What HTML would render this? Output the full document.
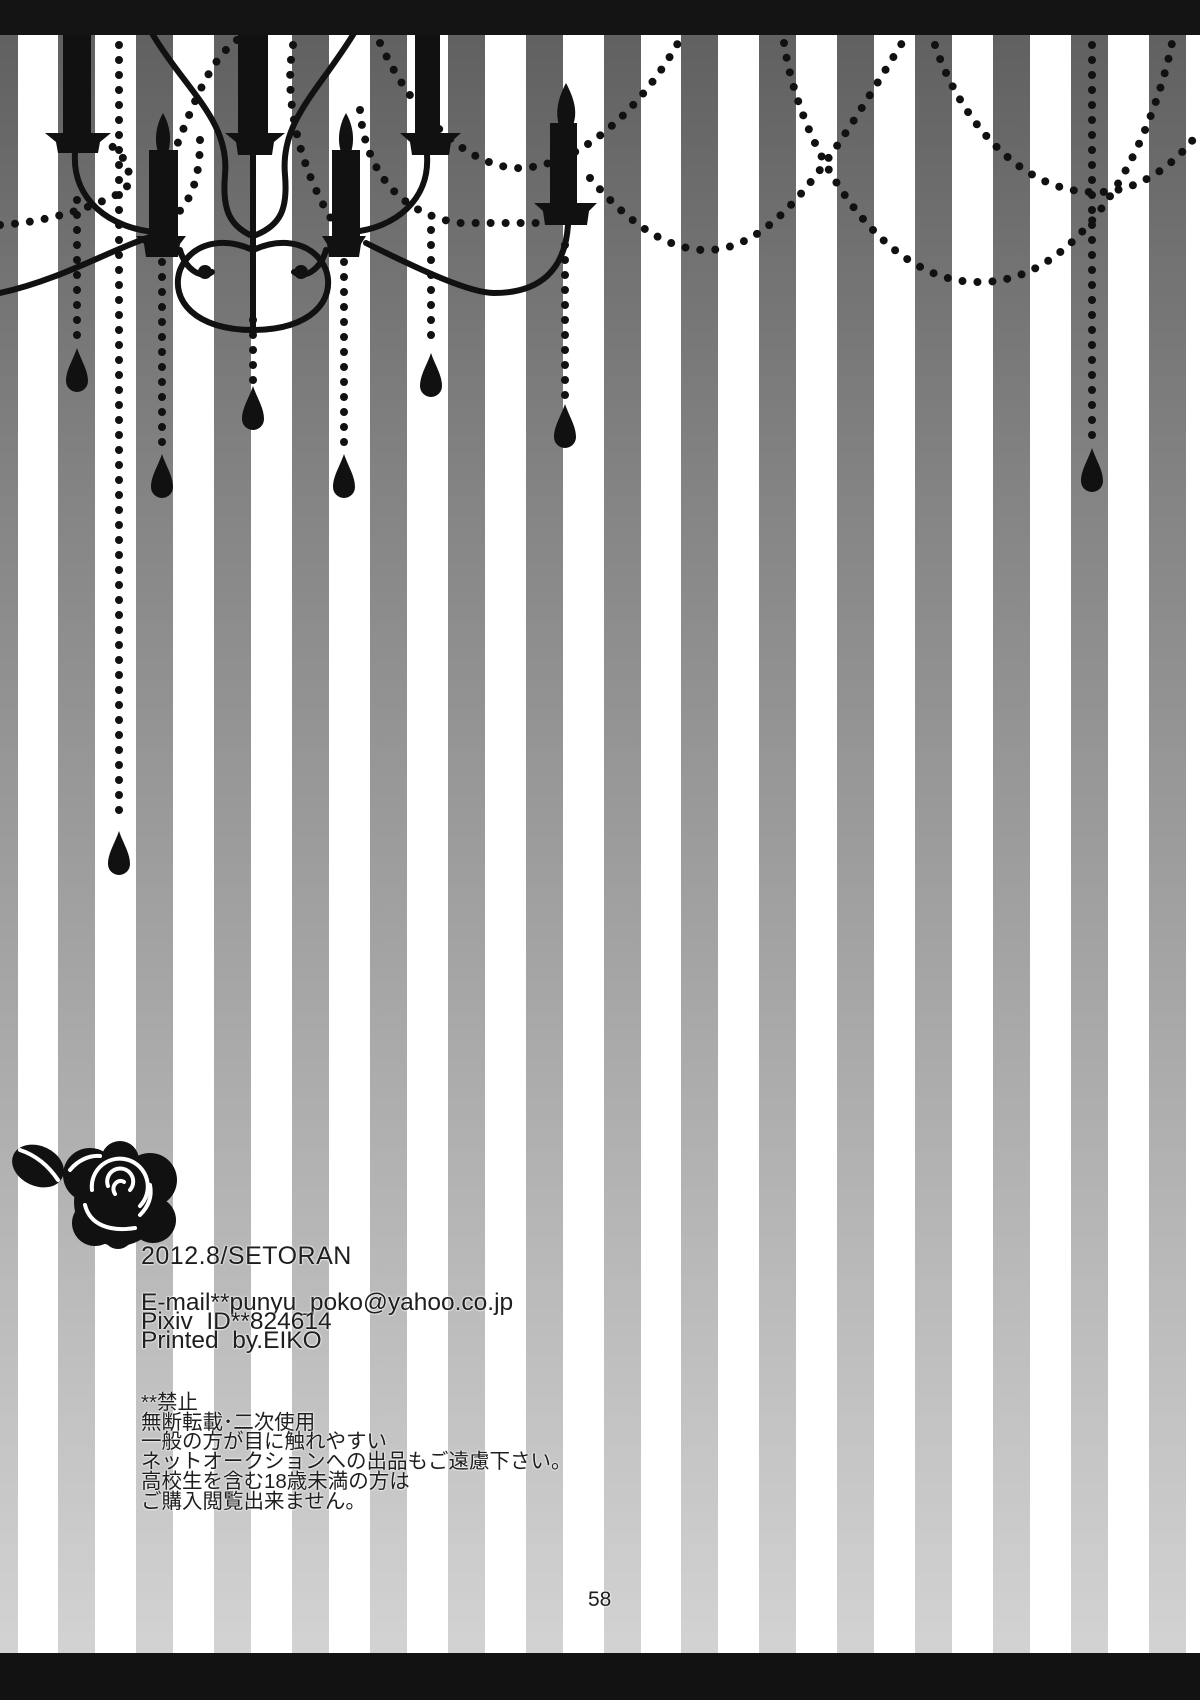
<!DOCTYPE html>
<html><head><meta charset="utf-8"><style>
html,body{margin:0;padding:0;background:#fff}
#p{position:relative;width:1200px;height:1700px;overflow:hidden;background:#fff}
svg{position:absolute;left:0;top:0}
.t{position:absolute;left:141px;color:#1e1e1e;font-family:"Liberation Sans","Noto Sans CJK JP",sans-serif;white-space:nowrap;text-shadow:0 0 2px #fff,0 0 2px #fff}
</style></head><body><div id="p">
<svg width="1200" height="1700" viewBox="0 0 1200 1700">
<defs>
<linearGradient id="g" x1="0" y1="0" x2="0" y2="1700" gradientUnits="userSpaceOnUse">
<stop offset="0" stop-color="#5e5e5e"/><stop offset="0.3" stop-color="#858585"/><stop offset="0.6" stop-color="#a8a8a8"/><stop offset="1" stop-color="#d6d6d6"/>
</linearGradient>
<path id="d" d="M0,-24 C4,-12 11,-2 11,9 A11,11 0 0 1 -11,9 C-11,-2 -4,-12 0,-24Z"/>
</defs>
<rect x="0" y="0" width="18" height="1700" fill="url(#g)"/>
<g fill="url(#g)">
<rect x="58" y="0" width="37" height="1700"/><rect x="136" y="0" width="37" height="1700"/><rect x="214" y="0" width="37" height="1700"/><rect x="292" y="0" width="37" height="1700"/><rect x="370" y="0" width="37" height="1700"/><rect x="448" y="0" width="37" height="1700"/><rect x="526" y="0" width="37" height="1700"/><rect x="604" y="0" width="37" height="1700"/><rect x="681" y="0" width="37" height="1700"/><rect x="759" y="0" width="37" height="1700"/><rect x="837" y="0" width="37" height="1700"/><rect x="915" y="0" width="37" height="1700"/><rect x="993" y="0" width="37" height="1700"/><rect x="1071" y="0" width="37" height="1700"/><rect x="1149" y="0" width="37" height="1700"/>
</g>
<g fill="none" stroke="#111" stroke-width="8" stroke-linecap="round" stroke-dasharray="0 15">
<path d="M380,43 C420,130 480,170 522,168 C580,165 640,110 678,43"/>
<path d="M590,178 C630,225 670,252 711,250 C780,245 830,160 902,43"/>
<path d="M784,43 C800,150 880,282 977,282 C1080,285 1150,150 1172,43"/>
<path d="M935,45 C960,120 1020,190 1090,192 C1140,195 1180,160 1200,130"/>
<path d="M360,110 C365,170 400,215 460,223 L545,223"/>
<path d="M293,45 C283,100 300,170 335,225"/>
<path d="M237,40 C210,60 195,100 175,150"/>
<path d="M200,140 C200,180 190,205 170,220"/>
<path d="M0,225 C50,222 100,205 125,190 C135,175 125,155 110,145"/>
<path d="M119,45 L119,820"/>
<path d="M77,200 L77,345"/>
<path d="M162,262 L162,452"/>
<path d="M253,320 L253,386"/>
<path d="M344,262 L344,452"/>
<path d="M431,230 L431,350"/>
<path d="M565,245 L565,402"/>
<path d="M1092,45 L1092,445"/>
</g>
<g fill="#111">
<use href="#d" x="77" y="372"/><use href="#d" x="162" y="478"/><use href="#d" x="253" y="410"/><use href="#d" x="344" y="478"/><use href="#d" x="431" y="377"/><use href="#d" x="565" y="428"/><use href="#d" x="1092" y="472"/><use href="#d" x="119" y="855"/>
</g>
<g fill="none" stroke="#111" stroke-width="6" stroke-linecap="round">
<path d="M0,293 C60,280 110,250 150,237"/>
<path d="M366,243 C420,270 470,293 494,293 C540,293 565,270 568,225"/>
<path d="M75,153 C72,200 110,228 155,232"/>
<path d="M427,155 C430,200 395,228 352,232"/>
<path d="M150,30 C185,90 230,120 225,175 C222,210 230,225 250,235"/>
<path d="M356,30 C320,90 280,120 285,175 C288,210 280,225 256,235"/>
<path d="M253,250 C220,235 190,245 180,270 C170,300 195,330 253,330"/>
<path d="M253,250 C286,235 316,245 326,270 C336,300 311,330 253,330"/>
<path d="M253,150 L253,330"/>
<path d="M180,250 C185,268 200,280 212,272"/>
<path d="M326,250 C321,268 306,280 294,272"/>
</g>
<g fill="#111">
<circle cx="205" cy="272" r="7"/><circle cx="301" cy="272" r="7"/>
<rect x="63" y="35" width="28" height="100"/><path d="M45,133 L111,133 L100,142 L98,153 L58,153 L56,142Z"/>
<rect x="238" y="35" width="30" height="100"/><path d="M225,133 L285,133 L274,142 L272,155 L238,155 L236,142Z"/>
<rect x="415" y="35" width="25" height="100"/><path d="M400,133 L461,133 L451,142 L449,155 L412,155 L410,142Z"/>
<path d="M163,113 C170,125 172,140 168,152 L158,152 C154,140 156,125 163,113Z"/>
<rect x="149" y="150" width="29" height="88"/><path d="M136,236 L186,236 L180,244 L178,257 L146,257 L144,244Z"/>
<path d="M346,113 C353,125 355,140 351,152 L341,152 C337,140 339,125 346,113Z"/>
<rect x="332" y="150" width="28" height="88"/><path d="M322,236 L366,236 L361,244 L359,257 L329,257 L327,244Z"/>
<path d="M566,83 C574,98 578,112 573,125 L559,125 C555,112 558,98 566,83Z"/>
<rect x="550" y="123" width="27" height="82"/><path d="M534,203 L597,203 L589,211 L587,225 L545,225 L543,211Z"/>
</g>
<rect x="0" y="0" width="1200" height="35" fill="#141414"/>
<rect x="0" y="1653" width="1200" height="47" fill="#121212"/>
<g transform="translate(0,10)">
<g fill="#111">
<ellipse cx="38" cy="1156" rx="27" ry="20" transform="rotate(25 38 1156)"/>
<circle cx="118" cy="1192" r="44"/><circle cx="90" cy="1165" r="27"/><circle cx="150" cy="1170" r="27"/><circle cx="153" cy="1210" r="23"/><circle cx="95" cy="1213" r="23"/><circle cx="120" cy="1150" r="19"/><circle cx="118" cy="1224" r="15"/>
</g>
<g fill="none" stroke="#fff" stroke-width="4" stroke-linecap="round">
<path d="M20,1140 C35,1145 48,1155 58,1170"/>
<path d="M92,1180 A28,28 0 1 1 140,1196"/>
<path d="M108,1176 A13,13 0 1 1 130,1180"/>
<path d="M115,1184 C110,1176 118,1168 124,1172"/>
<path d="M85,1195 C90,1215 110,1222 135,1218"/>
<path d="M140,1205 C150,1195 152,1185 150,1175"/>
<path d="M70,1160 C78,1150 90,1145 100,1146"/>
</g>
</g>
</svg>
<div class="t" style="top:1241px;font-size:25px;line-height:30px;letter-spacing:0.5px">2012.8/SETORAN</div>
<div class="t" style="top:1293px;font-size:24.5px;line-height:19px">E-mail**punyu_poko@yahoo.co.jp<br>Pixiv&nbsp; ID**824614<br>Printed&nbsp; by.EIKO</div>
<div class="t" style="top:1393px;font-size:20.5px;line-height:19.7px">**禁止<br>無断転載･二次使用<br>一般の方が目に触れやすい<br>ネットオークションへの出品もご遠慮下さい。<br>高校生を含む18歳未満の方は<br>ご購入閲覧出来ません。</div>
<div class="t" style="left:588px;top:1588px;font-size:21px;line-height:24px">58</div>
</div></body></html>
